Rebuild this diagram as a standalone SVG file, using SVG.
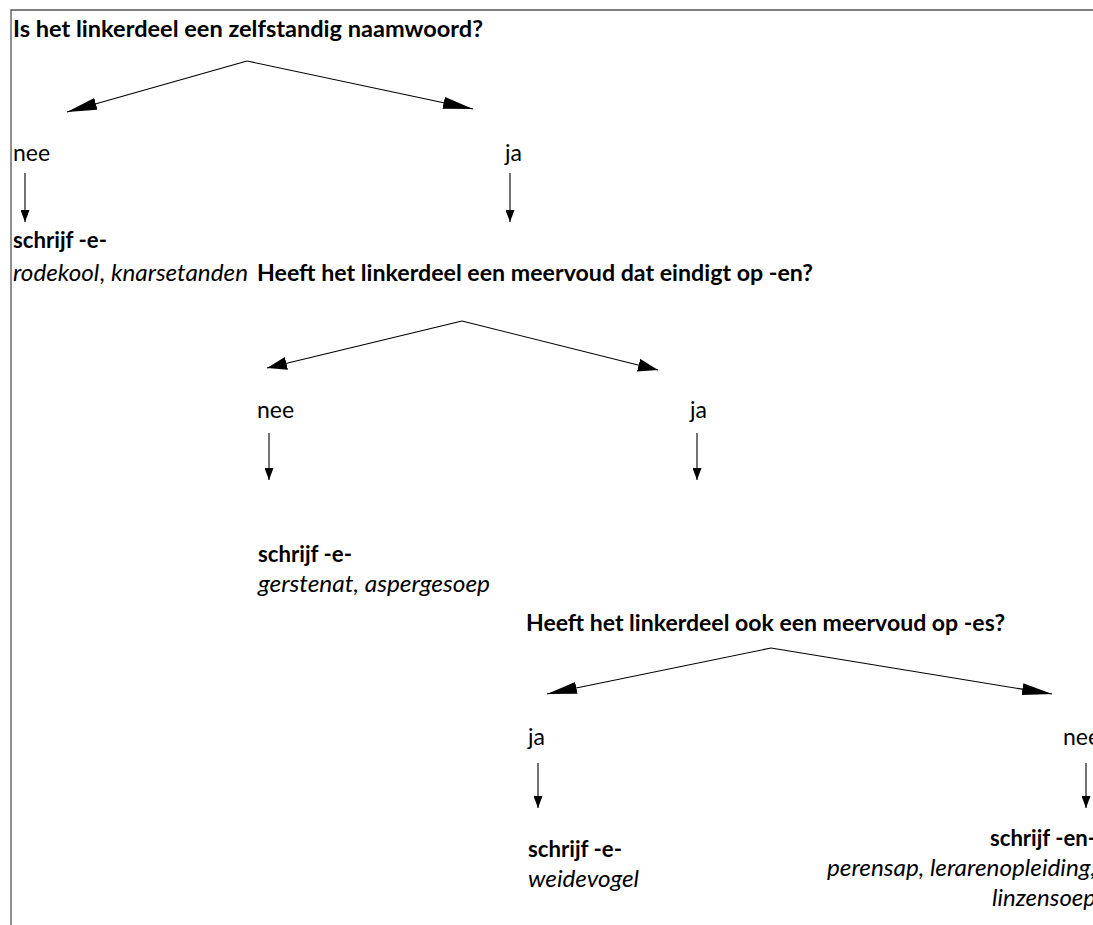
<svg xmlns="http://www.w3.org/2000/svg" width="1093" height="925" viewBox="0 0 1093 925">
<style>
text{font-family:Lato,"Open Sans","Liberation Sans",sans-serif;font-size:23px;fill:#000}
.b{font-weight:bold}
.i{font-style:italic}
.n{font-style:normal}
.c{stroke:#000;stroke-width:1.1;fill:none}
.frame{stroke:#555;stroke-width:1.3;fill:none}
</style>
<defs>
<marker id="big" viewBox="-30 -6 31 12" refX="0" refY="0" markerWidth="31" markerHeight="12" orient="auto" markerUnits="userSpaceOnUse"><path d="M0,0 L-30,-6 L-30,6 Z" fill="#000"/></marker>
<marker id="mid" viewBox="-20 -6.5 21 13" refX="0" refY="0" markerWidth="21" markerHeight="13" orient="auto" markerUnits="userSpaceOnUse"><path d="M0,0 L-20,-6.5 L-20,6.5 Z" fill="#000"/></marker>
<marker id="dn" viewBox="-12 -4.5 13 9" refX="0" refY="0" markerWidth="13" markerHeight="9" orient="auto" markerUnits="userSpaceOnUse"><path d="M0,0 L-12,-4.5 L-12,4.5 Z" fill="#000"/></marker>
</defs>
<path class="frame" d="M11,925 L11,10 L1093,10"/>
<g id="connectors">
<line class="c" x1="247" y1="61" x2="67" y2="112" marker-end="url(#big)"/>
<line class="c" x1="247" y1="61" x2="473" y2="109" marker-end="url(#big)"/>
<line class="c" x1="25" y1="173" x2="25" y2="222" marker-end="url(#dn)"/>
<line class="c" x1="510" y1="173" x2="510" y2="222" marker-end="url(#dn)"/>
<line class="c" x1="462" y1="321" x2="267" y2="368" marker-end="url(#mid)"/>
<line class="c" x1="462" y1="321" x2="658" y2="370" marker-end="url(#mid)"/>
<line class="c" x1="269" y1="433" x2="269" y2="480" marker-end="url(#dn)"/>
<line class="c" x1="697" y1="433" x2="697" y2="480" marker-end="url(#dn)"/>
<line class="c" x1="771" y1="648" x2="547" y2="694" marker-end="url(#big)"/>
<line class="c" x1="771" y1="648" x2="1052" y2="694" marker-end="url(#big)"/>
<line class="c" x1="538" y1="763" x2="538" y2="808" marker-end="url(#dn)"/>
<line class="c" x1="1086" y1="763" x2="1086" y2="808" marker-end="url(#dn)"/>
</g>
<g id="q1"><text class="b" x="13" y="37" textLength="470" lengthAdjust="spacingAndGlyphs">Is het linkerdeel een zelfstandig naamwoord?</text></g>
<g id="q1-nee"><text x="13" y="161">nee</text></g>
<g id="q1-ja"><text x="505" y="161">ja</text></g>
<g id="r1">
<text class="b" x="13" y="248" textLength="94" lengthAdjust="spacingAndGlyphs">schrijf -e-</text>
<text class="i" x="13" y="281" textLength="235" lengthAdjust="spacingAndGlyphs">rodekool<tspan class="n">, </tspan>knarsetanden</text>
</g>
<g id="q2"><text class="b" x="257" y="281" textLength="556" lengthAdjust="spacingAndGlyphs">Heeft het linkerdeel een meervoud dat eindigt op -en?</text></g>
<g id="q2-nee"><text x="257" y="418">nee</text></g>
<g id="q2-ja"><text x="690" y="418">ja</text></g>
<g id="r2">
<text class="b" x="258" y="562" textLength="94" lengthAdjust="spacingAndGlyphs">schrijf -e-</text>
<text class="i" x="258" y="592" textLength="232" lengthAdjust="spacingAndGlyphs">gerstenat, aspergesoep</text>
</g>
<g id="q3"><text class="b" x="526" y="631" textLength="479" lengthAdjust="spacingAndGlyphs">Heeft het linkerdeel ook een meervoud op -es?</text></g>
<g id="q3-ja"><text x="528" y="745">ja</text></g>
<g id="q3-nee"><text x="1063" y="745">nee</text></g>
<g id="r3">
<text class="b" x="528" y="857" textLength="94" lengthAdjust="spacingAndGlyphs">schrijf -e-</text>
<text class="i" x="528" y="887" textLength="111" lengthAdjust="spacingAndGlyphs">weidevogel</text>
</g>
<g id="r4">
<text class="b" x="1096" y="846" text-anchor="end" textLength="106" lengthAdjust="spacingAndGlyphs">schrijf -en-</text>
<text class="i" x="1096" y="876" text-anchor="end" textLength="269" lengthAdjust="spacingAndGlyphs">perensap, lerarenopleiding,</text>
<text class="i" x="1096" y="906" text-anchor="end" textLength="104" lengthAdjust="spacingAndGlyphs">linzensoep</text>
</g>
</svg>
